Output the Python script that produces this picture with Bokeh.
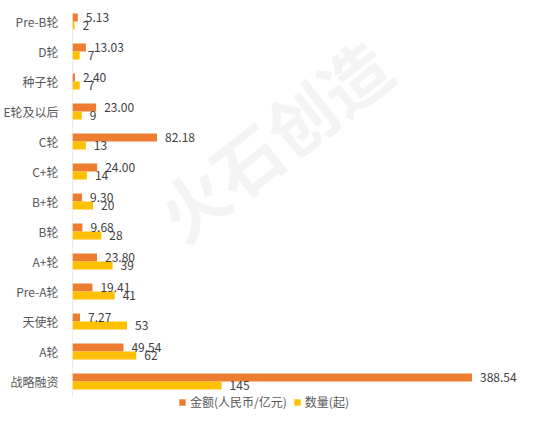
from bokeh.plotting import figure
from bokeh.models import ColumnDataSource, Range1d, FixedTicker, Legend, LegendItem, Label
from bokeh.transform import dodge
from bokeh.core.properties import value
from bokeh.embed import file_html
from bokeh.resources import INLINE

# Data, listed top to bottom as in the chart
categories = ["Pre-B轮", "D轮", "种子轮", "E轮及以后", "C轮", "C+轮", "B+轮", "B轮",
              "A+轮", "Pre-A轮", "天使轮", "A轮", "战略融资"]
amount = [5.13, 13.03, 2.40, 23.00, 82.18, 24.00, 9.30, 9.68, 23.80, 19.41, 7.27, 49.54, 388.54]
count = [2, 7, 7, 9, 13, 14, 20, 28, 39, 41, 53, 62, 145]
series_names = ["金额(人民币/亿元)", "数量(起)"]
colors = ["#ED7D31", "#FFC000"]

n = len(categories)
ypos = [n - 1 - i for i in range(n)]
src = ColumnDataSource(dict(
    y=ypos, cat=categories, amount=amount, count=count,
    amount_lbl=[f"{v:.2f}" for v in amount],
    count_lbl=[str(v) for v in count],
))

FONT = "Noto Sans CJK SC"
Y_TOP, Y_AXIS_BOTTOM, Y_FRAME_BOTTOM = 12.3, -0.5, -0.967
p = figure(width=520, height=410, output_backend="svg", toolbar_location=None,
           x_range=Range1d(0, 435.7), y_range=Range1d(Y_FRAME_BOTTOM, Y_TOP),
           min_border_left=69, min_border_right=0, min_border_top=12, min_border_bottom=0)
p.outline_line_color = None
p.grid.visible = False
p.xaxis.visible = False

yax = p.yaxis[0]
yax.ticker = FixedTicker(ticks=ypos)
yax.major_label_overrides = {y: c for y, c in zip(ypos, categories)}
yax.major_tick_line_color = None
yax.minor_tick_line_color = None
yax.axis_line_color = None
yax.major_label_text_font = FONT
yax.major_label_text_font_size = "12px"
yax.major_label_text_color = "#595959"
yax.major_label_standoff = 8

# Watermark
p.add_layout(Label(x=200, y=272, x_units="screen", y_units="screen", text="火石创造",
                   angle=38, angle_units="deg", text_font=FONT, text_font_size="68px",
                   text_font_style="bold", text_color="#F4F4F4",
                   text_align="center", text_baseline="middle"))

# category axis line (only over the category bands)
p.segment(x0=[0], y0=[Y_AXIS_BOTTOM], x1=[0], y1=[Y_TOP], line_color="#D9D9D9", line_width=1)

h = 0.27
off = 0.135
r1 = p.hbar(y=dodge("y", off), right="amount", left=0, height=h, source=src,
            fill_color=colors[0], line_color=None)
r2 = p.hbar(y=dodge("y", -off), right="count", left=0, height=h, source=src,
            fill_color=colors[1], line_color=None)

p.text(x="amount", y=dodge("y", off), text="amount_lbl", source=src, x_offset=8,
       text_font=value(FONT), text_font_size="12px", text_color="#404040",
       text_baseline="middle", text_align="left")
p.text(x="count", y=dodge("y", -off), text="count_lbl", source=src, x_offset=8,
       text_font=value(FONT), text_font_size="12px", text_color="#404040",
       text_baseline="middle", text_align="left")

legend = Legend(items=[LegendItem(label=series_names[0], renderers=[r1]),
                       LegendItem(label=series_names[1], renderers=[r2])],
                orientation="horizontal", location=(106, 0),
                glyph_width=8, glyph_height=8, label_standoff=4, spacing=6,
                padding=0, margin=0, border_line_color=None, background_fill_alpha=0,
                label_text_font=FONT, label_text_font_size="12px",
                label_text_color="#595959", label_height=12)
p.add_layout(legend, "center")

open("out.html", "w").write(file_html(p, INLINE))
